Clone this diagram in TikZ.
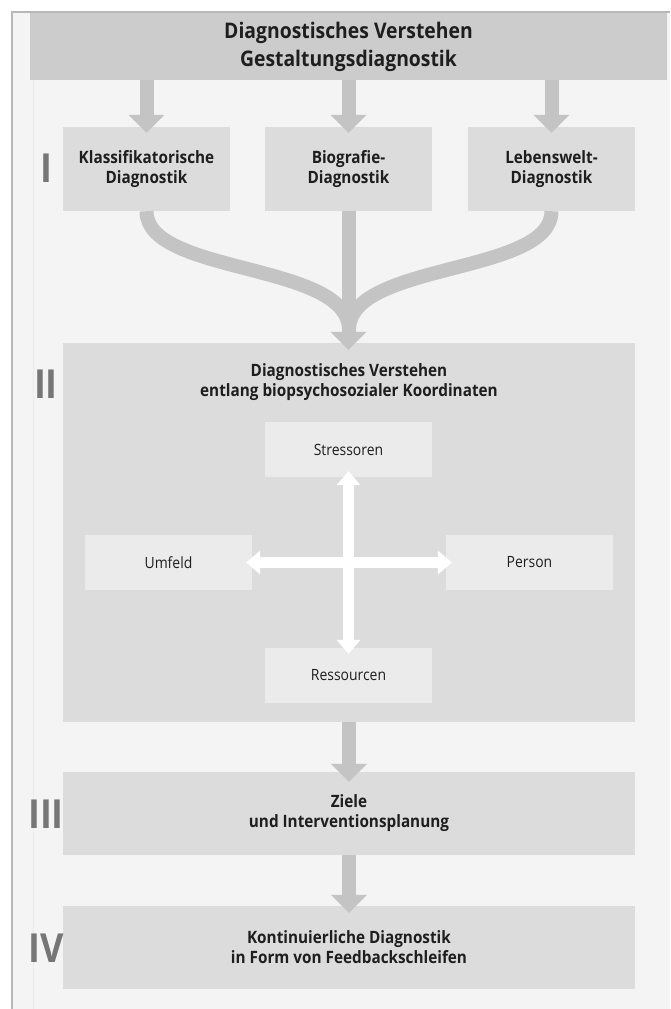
\documentclass[tikz,border=0pt]{standalone}
\usepackage{fontspec}
\setmainfont{Open Sans}[FakeStretch=0.9]
\usetikzlibrary{arrows.meta,calc}
\definecolor{pnl}{HTML}{F4F4F4}
\definecolor{hdr}{HTML}{CCCCCC}
\definecolor{stg}{HTML}{DCDCDC}
\definecolor{axs}{HTML}{EBEBEB}
\definecolor{arw}{HTML}{C4C4C4}
\definecolor{rim}{HTML}{B8B8B8}
\definecolor{num}{HTML}{767676}
\definecolor{txt}{HTML}{1E1E1E}
\tikzset{
  stagebox/.style={fill=stg,inner sep=0pt,align=center,text=txt,font=\fontsize{17}{20}\selectfont\bfseries},
  hdrbox/.style={stagebox,fill=hdr,font=\fontsize{21.5}{28}\selectfont\bfseries},
  axisbox/.style={fill=axs,inner sep=0pt,minimum width=167pt,minimum height=55pt,text=txt,font=\fontsize{15.5}{18}\selectfont},
  flowar/.style={draw=arw,line width=14pt,-{Triangle[width=36pt,length=18pt,line width=0pt]}},
  axisar/.style={draw=white,line width=11pt,{Triangle[width=24pt,length=14pt,line width=0pt]}-{Triangle[width=24pt,length=14pt,line width=0pt]},shorten <=-6pt,shorten >=-6pt},
  numlbl/.style={text=num,inner sep=0pt,font=\fontsize{40}{40}\selectfont\bfseries},
}

\begin{document}
\begin{tikzpicture}[x=1pt,y=-1pt]
\useasboundingbox[fill=white] (0,0) rectangle (670,1009);
% panel
\fill[pnl] (12,12) rectangle (670,1009);
\draw[rim,line width=1.2pt] (12,1009) -- (12,12) -- (670,12);
\draw[black!8,line width=0.8pt] (33,80) -- (33,1009);
% header
\node[hdrbox,minimum width=637pt,minimum height=67pt] (hdr) at (348.5,46.5) {Diagnostisches Verstehen\\Gestaltungsdiagnostik};
% stage I
\foreach \n/\x/\t in {b1/146.5/Klassifikatorische\\Diagnostik, b2/348.5/Biografie-\\Diagnostik, b3/551.5/Lebenswelt-\\Diagnostik}
  \node[stagebox,minimum width=167pt,minimum height=84pt] (\n) at (\x,169) {\t};
% stages II--IV
\node[stagebox,minimum width=572pt,minimum height=379pt] (bii) at (349,532.5) {};
\node[stagebox,anchor=center] (tii) at (349,382) {Diagnostisches Verstehen\\entlang biopsychosozialer Koordinaten};
\node[stagebox,minimum width=572pt,minimum height=83pt] (biii) at (349,813.5) {Ziele\\und Interventionsplanung};
\node[stagebox,minimum width=572pt,minimum height=83pt] (biv) at (349,947.5) {Kontinuierliche Diagnostik\\in Form von Feedbackschleifen};
% coordinates
\node[axisbox] (str) at (348.5,449.5) {Stressoren};
\node[axisbox] (res) at (348.5,675.5) {Ressourcen};
\node[axisbox] (umf) at (168.5,562.5) {Umfeld};
\node[axisbox] (per) at (529.5,562.5) {Person};
\draw[axisar] (umf.east) -- (per.west);
\draw[axisar] (str.south) -- (res.north);
% numerals
\foreach \r/\y in {I/168,II/384,III/814,IV/948}
  \node[numlbl] (n\r) at (46,\y) {\r};
% arrows
\foreach \b in {b1,b2,b3}
  \draw[flowar,shorten >=-6pt] (hdr.south -| \b.north) -- (\b.north);
\coordinate (mrg) at ($(bii.north)+(0,-13)$);
\draw[arw,line width=14pt] (b1.south) .. controls +(0,64) and ($(mrg)+(0,-68)$) .. (mrg);
\draw[arw,line width=14pt] (b3.south) .. controls +(0,64) and ($(mrg)+(0,-68)$) .. (mrg);
\draw[flowar,shorten >=-7pt] (b2.south) -- (b2.south |- bii.north);
\draw[flowar,shorten >=-10pt] (bii.south) -- (biii.north);
\draw[flowar,shorten >=-7pt] (biii.south) -- (biv.north);
\end{tikzpicture}
\end{document}
